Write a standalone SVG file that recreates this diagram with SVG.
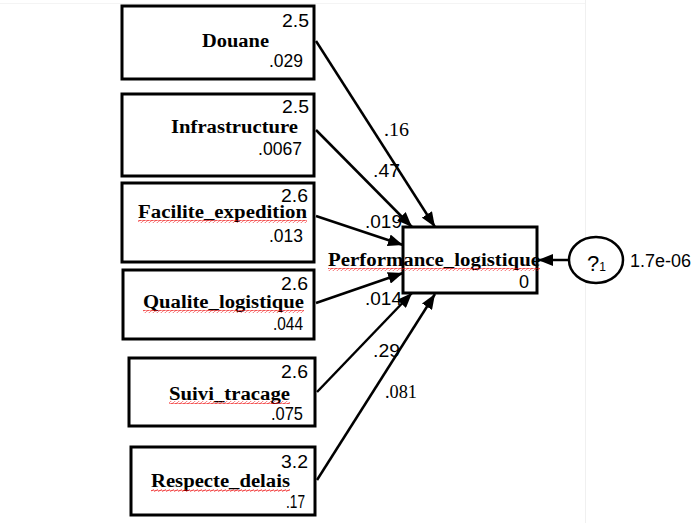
<svg xmlns="http://www.w3.org/2000/svg" width="691" height="523" viewBox="0 0 691 523">
<style>
.box{fill:#fff;stroke:#000;stroke-width:3}
.nm{font-family:"Liberation Serif","Times New Roman",serif;font-weight:bold;font-size:18px;fill:#000}
.num{font-family:"Liberation Sans",Arial,sans-serif;font-size:18px;fill:#000}
.ser{font-family:"Liberation Serif","Times New Roman",serif;font-size:18px;fill:#000}
.edge{stroke:#000;stroke-width:2.5;fill:none}
.sq{fill:url(#sq)}
</style>
<defs>
<marker id="ah" markerUnits="userSpaceOnUse" markerWidth="16" markerHeight="12" refX="15" refY="6" orient="auto">
<path d="M0,0 L15,6 L0,12 Z" fill="#000"/>
</marker>
<pattern id="sq" width="4" height="3" patternUnits="userSpaceOnUse">
<path d="M0,2 L1,0.6 L3,2.4 L4,1" stroke="#e00" fill="none" stroke-width="0.8"/>
</pattern>
</defs>
<rect width="691" height="523" fill="#fff"/>
<line x1="585.5" y1="0" x2="585.5" y2="523" stroke="#f0f0f0" stroke-width="1"/>
<line x1="0" y1="3.5" x2="585" y2="3.5" stroke="#f4f4f4" stroke-width="1"/>

<g id="connectors">
<line class="edge" x1="316" y1="41" x2="435" y2="227" marker-end="url(#ah)"/>
<line class="edge" x1="316" y1="130" x2="412" y2="227" marker-end="url(#ah)"/>
<line class="edge" x1="316" y1="216" x2="403" y2="245" marker-end="url(#ah)"/>
<line class="edge" x1="316" y1="303" x2="403" y2="273" marker-end="url(#ah)"/>
<line class="edge" x1="317" y1="392" x2="412" y2="293" marker-end="url(#ah)"/>
<line class="edge" x1="317" y1="480" x2="435" y2="294" marker-end="url(#ah)"/>
<line class="edge" x1="569" y1="260" x2="538" y2="260" marker-end="url(#ah)"/>
<text class="ser" x="384" y="136" textLength="25" lengthAdjust="spacingAndGlyphs">.16</text>
<text class="num" x="373" y="177" textLength="27" lengthAdjust="spacingAndGlyphs">.47</text>
<text class="num" x="365" y="228" textLength="37" lengthAdjust="spacingAndGlyphs">.019</text>
<text class="num" x="365" y="305" textLength="37" lengthAdjust="spacingAndGlyphs">.014</text>
<text class="num" x="373" y="357" textLength="27" lengthAdjust="spacingAndGlyphs">.29</text>
<text class="ser" x="385" y="398" textLength="32" lengthAdjust="spacingAndGlyphs">.081</text>
</g>

<g id="douane">
<rect class="box" x="122" y="6" width="192" height="73"/>
<text class="num" x="282" y="27" textLength="27" lengthAdjust="spacingAndGlyphs">2.5</text>
<text class="nm" x="202" y="47" textLength="67" lengthAdjust="spacingAndGlyphs">Douane</text>
<text class="num" x="269" y="67" textLength="34" lengthAdjust="spacingAndGlyphs">.029</text>
</g>

<g id="infrastructure">
<rect class="box" x="122" y="94" width="192" height="82"/>
<text class="num" x="282" y="113" textLength="27" lengthAdjust="spacingAndGlyphs">2.5</text>
<text class="nm" x="171" y="133" textLength="127" lengthAdjust="spacingAndGlyphs">Infrastructure</text>
<text class="num" x="258" y="155" textLength="44" lengthAdjust="spacingAndGlyphs">.0067</text>
</g>

<g id="facilite_expedition">
<rect class="box" x="122" y="183" width="192" height="79"/>
<text class="num" x="281" y="202" textLength="27" lengthAdjust="spacingAndGlyphs">2.6</text>
<text class="nm" x="138" y="218" textLength="169" lengthAdjust="spacingAndGlyphs">Facilite_expedition</text>
<rect class="sq" x="138" y="220" width="169" height="3"/>
<text class="num" x="269" y="242" textLength="34" lengthAdjust="spacingAndGlyphs">.013</text>
</g>

<g id="qualite_logistique">
<rect class="box" x="123" y="270" width="191" height="69"/>
<text class="num" x="281" y="290" textLength="27" lengthAdjust="spacingAndGlyphs">2.6</text>
<text class="nm" x="143" y="308" textLength="161" lengthAdjust="spacingAndGlyphs">Qualite_logistique</text>
<rect class="sq" x="143" y="310" width="161" height="3"/>
<text class="num" x="273" y="330" textLength="30" lengthAdjust="spacingAndGlyphs">.044</text>
</g>

<g id="suivi_tracage">
<rect class="box" x="129" y="358" width="186" height="68"/>
<text class="num" x="281" y="378" textLength="27" lengthAdjust="spacingAndGlyphs">2.6</text>
<text class="nm" x="169" y="400" textLength="121" lengthAdjust="spacingAndGlyphs">Suivi_tracage</text>
<rect class="sq" x="169" y="401" width="121" height="3"/>
<text class="num" x="271" y="420" textLength="32" lengthAdjust="spacingAndGlyphs">.075</text>
</g>

<g id="respecte_delais">
<rect class="box" x="131" y="447" width="184" height="68"/>
<text class="num" x="281" y="468" textLength="27" lengthAdjust="spacingAndGlyphs">3.2</text>
<text class="nm" x="151" y="487" textLength="139" lengthAdjust="spacingAndGlyphs">Respecte_delais</text>
<rect class="sq" x="151" y="489" width="139" height="3"/>
<text class="num" x="286" y="508" textLength="19" lengthAdjust="spacingAndGlyphs">.17</text>
</g>

<g id="performance_logistique">
<rect class="box" x="403" y="227" width="134" height="66"/>
<text class="nm" x="328" y="266" textLength="212" lengthAdjust="spacingAndGlyphs">Performance_logistique</text>
<rect class="sq" x="328" y="268" width="212" height="3"/>
<text class="num" x="529" y="288" text-anchor="end">0</text>
</g>

<g id="error1">
<ellipse cx="596" cy="260" rx="27" ry="23" fill="#fff" stroke="#000" stroke-width="2.5"/>
<text class="num" x="587" y="271" style="font-size:22px">?<tspan style="font-size:12px">1</tspan></text>
<text class="num" x="630" y="267" textLength="61" lengthAdjust="spacingAndGlyphs">1.7e-06</text>
</g>
</svg>
